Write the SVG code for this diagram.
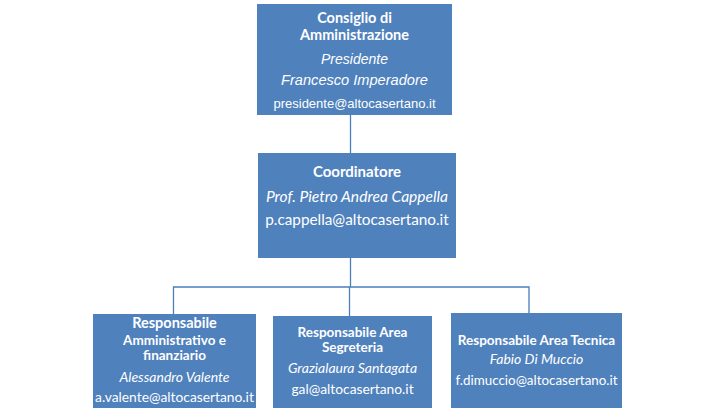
<svg xmlns="http://www.w3.org/2000/svg" width="728" height="415" viewBox="0 0 728 415">
<style>
.box{fill:#4f81bd;}
.ln{stroke:#4a7ebb;stroke-width:1.3;fill:none;}
text{fill:#ffffff;text-anchor:middle;}
.c{font-family:Lato,"Open Sans",sans-serif;font-size:13.5px;}
.b{font-weight:bold;}
.i{font-style:italic;}
.a{font-family:"Liberation Sans",Arial,sans-serif;}
</style>
<rect width="728" height="415" fill="#ffffff"/>
<g id="connectors">
<line class="ln" x1="350.5" y1="114" x2="350.5" y2="153"/>
<line class="ln" x1="350.5" y1="258" x2="350.5" y2="287"/>
<polyline class="ln" points="173.5,314 173.5,287 529,287 529,313"/>
<line class="ln" x1="349.5" y1="287" x2="349.5" y2="316"/>
</g>
<g id="node-consiglio">
<rect class="box" x="257" y="4" width="195" height="111"/>
<text class="c b" x="354.5" y="23" style="font-size:14.5px">Consiglio di</text>
<text class="c b" x="354.5" y="40" style="font-size:14.5px">Amministrazione</text>
<text class="a i" x="354.5" y="64" style="font-size:14px">Presidente</text>
<text class="a i" x="354.5" y="85" style="font-size:14.6px">Francesco Imperadore</text>
<text class="a" x="354.5" y="108" style="font-size:13px">presidente@altocasertano.it</text>
</g>
<g id="node-coordinatore">
<rect class="box" x="258" y="153" width="198" height="105"/>
<text class="c b" x="357" y="177" style="font-size:15px">Coordinatore</text>
<text class="c i" x="357" y="202" style="font-size:15.6px">Prof. Pietro Andrea Cappella</text>
<text class="c" x="357" y="225" style="font-size:15.3px">p.cappella@altocasertano.it</text>
</g>
<g id="node-amministrativo">
<rect class="box" x="93" y="314" width="163" height="94"/>
<text class="c b" x="174.5" y="328" style="font-size:14.5px">Responsabile</text>
<text class="c b" x="174.5" y="345">Amministrativo e</text>
<text class="c b" x="174.5" y="360">finanziario</text>
<text class="c i" x="174.5" y="382" style="font-size:14px">Alessandro Valente</text>
<text class="c" x="174.5" y="402" style="font-size:13.8px">a.valente@altocasertano.it</text>
</g>
<g id="node-segreteria">
<rect class="box" x="273" y="316" width="159" height="92"/>
<text class="c b" x="352.5" y="337">Responsabile Area</text>
<text class="c b" x="352.5" y="352">Segreteria</text>
<text class="c i" x="352.5" y="373" style="font-size:14px">Grazialaura Santagata</text>
<text class="c" x="352.5" y="394" style="font-size:13.8px">gal@altocasertano.it</text>
</g>
<g id="node-tecnica">
<rect class="box" x="451" y="313" width="171" height="95"/>
<text class="c b" x="536.5" y="345">Responsabile Area Tecnica</text>
<text class="c i" x="536.5" y="364" style="font-size:14px">Fabio Di Muccio</text>
<text class="c" x="536.5" y="385" style="font-size:13.4px">f.dimuccio@altocasertano.it</text>
</g>
</svg>
